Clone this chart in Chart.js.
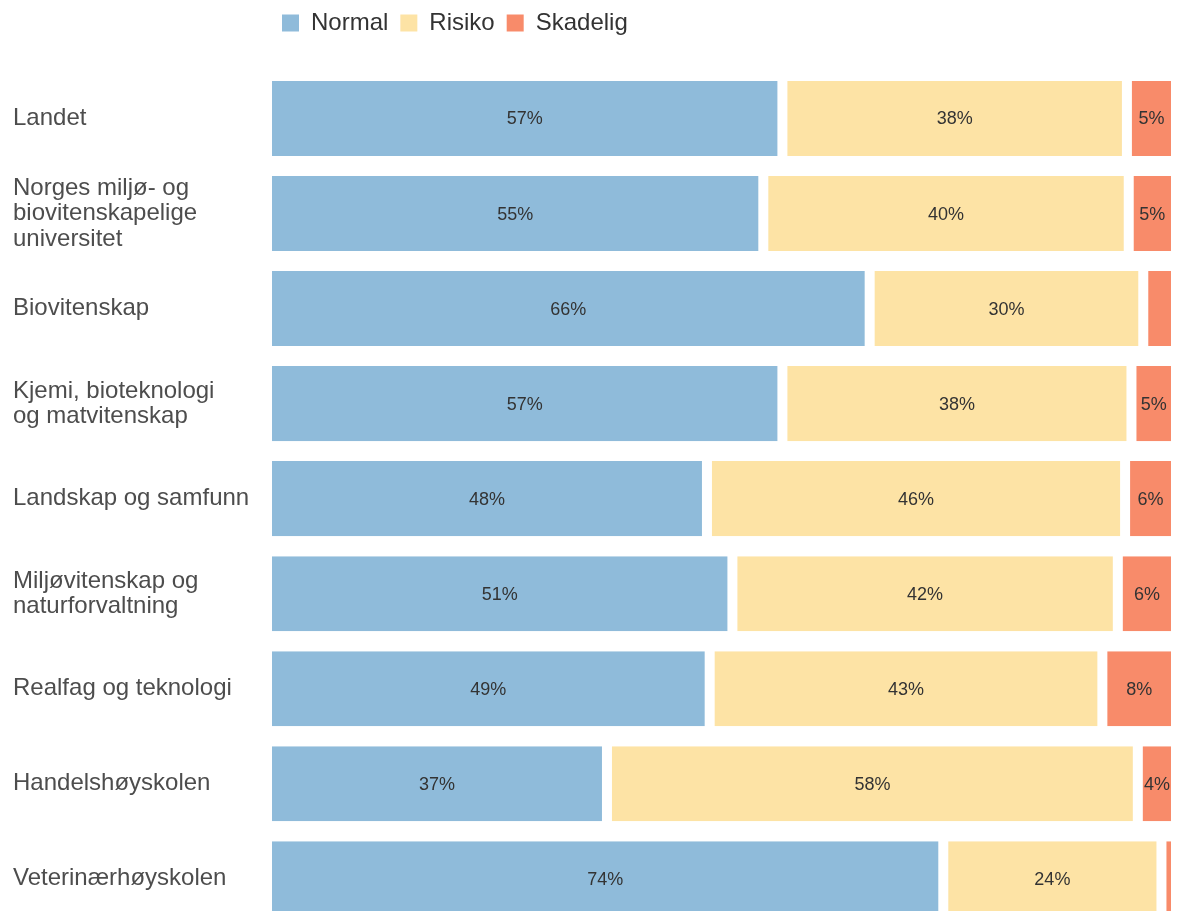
<!DOCTYPE html>
<html lang="no">
<head>
  <meta charset="UTF-8" />
  <title>Normal / Risiko / Skadelig</title>
  <script src="https://cdn.jsdelivr.net/npm/chart.js"></script>
  <style>
    html, body { margin: 0; padding: 0; background: #fff; overflow: hidden; }
    #wrap { position: relative; width: 1177px; height: 942px; }
  </style>
</head>
<body>
  <div id="wrap"><canvas id="chart"></canvas></div>

  <script>
    // categories (multi-line labels as arrays)
    const categories = [
      'Landet',
      ['Norges miljø- og', 'biovitenskapelige', 'universitet'],
      'Biovitenskap',
      ['Kjemi, bioteknologi', 'og matvitenskap'],
      'Landskap og samfunn',
      ['Miljøvitenskap og', 'naturforvaltning'],
      'Realfag og teknologi',
      'Handelshøyskolen',
      'Veterinærhøyskolen'
    ];

    // shares in percent
    const normal   = [56.7, 54.6, 66.3, 56.7, 48.4, 51.2, 48.7, 37.4, 74.4];
    const risiko   = [37.9, 40.2, 30.1, 38.4, 46.0, 42.4, 43.2, 58.4, 24.0];
    const skadelig = [ 5.4,  5.2,  3.6,  4.9,  5.6,  6.4,  8.1,  4.2,  1.6];

    const seriesNames = ['Normal', 'Risiko', 'Skadelig'];
    const colors = ['#8fbbda', '#fde3a5', '#f88b6a'];

    const FONT = '"Liberation Sans", Arial, sans-serif';

    // labels inside segments, hidden for very small ones
    const barLabels = {
      id: 'barLabels',
      afterDatasetsDraw(chart) {
        const ctx = chart.ctx;
        ctx.save();
        ctx.font = '18px ' + FONT;
        ctx.fillStyle = '#333333';
        ctx.textAlign = 'center';
        ctx.textBaseline = 'middle';
        chart.data.datasets.forEach((ds, i) => {
          chart.getDatasetMeta(i).data.forEach((bar, j) => {
            const v = ds.data[j];
            if (v < 4) return;
            const x = (bar.base + bar.x) / 2;
            ctx.fillText(Math.round(v) + '%', x, bar.y + 1);
          });
        });
        ctx.restore();
      }
    };

    // extra space under the legend, and nudge it a little
    const legendGap = {
      id: 'legendGap',
      beforeInit(chart) {
        const fit = chart.legend.fit;
        chart.legend.fit = function () {
          fit.bind(chart.legend)();
          this.height += 24;
        };
      },
      afterLayout(chart) {
        chart.legend.top -= 2;
        chart.legend.left += 3;
      }
    };

    const datasets = [normal, risiko, skadelig].map((d, i) => ({
      label: seriesNames[i],
      data: d,
      backgroundColor: colors[i],
      borderColor: '#ffffff',
      borderWidth: { left: 5, right: 5, top: 0, bottom: 0 },
      borderSkipped: false,
      categoryPercentage: 1,
      barPercentage: 0.79
    }));

    new Chart(document.getElementById('chart'), {
      type: 'bar',
      data: { labels: categories, datasets: datasets },
      options: {
        indexAxis: 'y',
        responsive: true,
        maintainAspectRatio: false,
        animation: false,
        layout: { padding: { left: 13, right: 1, top: 1, bottom: 0 } },
        plugins: {
          legend: {
            position: 'top',
            align: 'start',
            fullSize: false,
            labels: {
              boxWidth: 17,
              boxHeight: 17,
              padding: 12,
              color: '#333333',
              font: { family: FONT, size: 24 },
              // plain filled squares, without the white bar border
              generateLabels(chart) {
                return chart.data.datasets.map((ds, i) => ({
                  text: ds.label,
                  fillStyle: colors[i],
                  strokeStyle: colors[i],
                  lineWidth: 0,
                  fontColor: '#333333',
                  hidden: false,
                  datasetIndex: i
                }));
              }
            }
          },
          tooltip: { enabled: false }
        },
        scales: {
          x: {
            stacked: true,
            min: 0,
            max: 100,
            display: false
          },
          y: {
            stacked: true,
            grid: { display: false },
            border: { display: false },
            ticks: {
              crossAlign: 'far',
              color: '#4d4d4d',
              font: { family: FONT, size: 24, lineHeight: 1.06 }
            },
            afterFit(scale) { scale.width = 254; }
          }
        }
      },
      plugins: [barLabels, legendGap]
    });
  </script>
</body>
</html>
